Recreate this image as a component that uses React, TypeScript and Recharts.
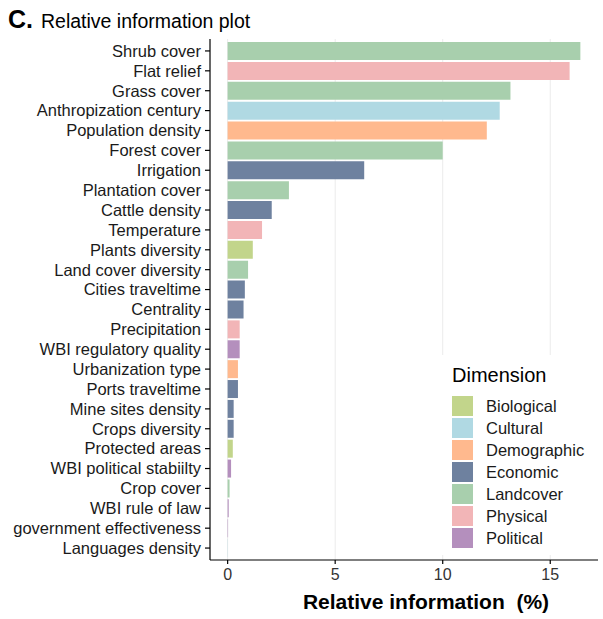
import { BarChart, Bar, Cell, XAxis, YAxis, CartesianGrid, Legend } from 'recharts';

const categories = [
  'Shrub cover',
  'Flat relief',
  'Grass cover',
  'Anthropization century',
  'Population density',
  'Forest cover',
  'Irrigation',
  'Plantation cover',
  'Cattle density',
  'Temperature',
  'Plants diversity',
  'Land cover diversity',
  'Cities traveltime',
  'Centrality',
  'Precipitation',
  'WBI regulatory quality',
  'Urbanization type',
  'Ports traveltime',
  'Mine sites density',
  'Crops diversity',
  'Protected areas',
  'WBI political stabiilty',
  'Crop cover',
  'WBI rule of law',
  'government effectiveness',
  'Languages density',
];

const values = [
  16.4, 15.9, 13.15, 12.65, 12.05, 10.0, 6.35, 2.85, 2.05, 1.6, 1.17, 0.95, 0.8, 0.74, 0.56,
  0.56, 0.48, 0.48, 0.28, 0.28, 0.24, 0.16, 0.09, 0.05, 0.02, 0.01,
];

const dimensionOf = [
  'Landcover', 'Physical', 'Landcover', 'Cultural', 'Demographic', 'Landcover', 'Economic',
  'Landcover', 'Economic', 'Physical', 'Biological', 'Landcover', 'Economic', 'Economic',
  'Physical', 'Political', 'Demographic', 'Economic', 'Economic', 'Economic', 'Biological',
  'Political', 'Landcover', 'Political', 'Political', 'Cultural',
];

const dimensions = ['Biological', 'Cultural', 'Demographic', 'Economic', 'Landcover', 'Physical', 'Political'];

const dimensionColors: Record<string, string> = {
  Biological: '#c2d58b',
  Cultural: '#b0d9e3',
  Demographic: '#ffb98e',
  Economic: '#6e819f',
  Landcover: '#a8cfad',
  Physical: '#f2b5b7',
  Political: '#b48fbd',
};

const xTicks = [0, 5, 10, 15];
const xDomain: [number, number] = [-0.82, 17.22];

const data = categories.map((name, i) => ({ name, value: values[i], dim: dimensionOf[i] }));

const FONT = '"Liberation Sans", Arial, sans-serif';

// grid lines only at the major ticks (no line at the panel edge)
const gridX = (props: any) => {
  const scale = props?.xAxis?.scale;
  if (typeof scale === 'function') return xTicks.map((t) => scale(t));
  const { left, width } = props.offset;
  return xTicks.map((t) => left + ((t - xDomain[0]) / (xDomain[1] - xDomain[0])) * width);
};

function DimensionLegend() {
  return (
    <svg width={160} height={200} style={{ display: 'block', background: '#fff' }}>
      <text x={12} y={27} fontSize={20} fontFamily={FONT} fill="#000">
        Dimension
      </text>
      {dimensions.map((d, i) => (
        <g key={d}>
          <rect x={12} y={41 + i * 22} width={21} height={20} fill={dimensionColors[d]} />
          <text x={46} y={57 + i * 22} fontSize={16.5} fontFamily={FONT} fill="#1a1a1a">
            {d}
          </text>
        </g>
      ))}
    </svg>
  );
}

export default function App() {
  return (
    <div style={{ position: 'absolute', left: 0, top: 0, width: 603, height: 619, background: '#fff' }}>
      <BarChart
        width={603}
        height={619}
        data={data}
        layout="vertical"
        margin={{ top: 39, right: 5, bottom: 0, left: 0 }}
        barCategoryGap="5%"
      >
        <CartesianGrid
          horizontal={false}
          stroke="#ebebeb"
          strokeWidth={1}
          verticalCoordinatesGenerator={gridX}
        />
        <XAxis
          type="number"
          domain={xDomain}
          ticks={xTicks}
          allowDataOverflow
          height={59}
          tickSize={4}
          tickMargin={5}
          axisLine={{ stroke: '#000', strokeWidth: 1.2 }}
          tickLine={{ stroke: '#000', strokeWidth: 1.2 }}
          tick={{ fontSize: 16, fill: '#333', fontFamily: FONT }}
        />
        <YAxis
          type="category"
          dataKey="name"
          width={210}
          interval={0}
          padding={{ top: 2, bottom: 2 }}
          tickSize={5}
          tickMargin={4}
          axisLine={{ stroke: '#000', strokeWidth: 1.2 }}
          tickLine={{ stroke: '#000', strokeWidth: 1.2 }}
          tick={{ fontSize: 16.5, fill: '#1a1a1a', fontFamily: FONT }}
        />
        <Legend
          layout="vertical"
          align="center"
          verticalAlign="middle"
          content={() => <DimensionLegend />}
          wrapperStyle={{ position: 'absolute', left: 440, top: 355, width: 160, height: 200 }}
        />
        <Bar dataKey="value" isAnimationActive={false}>
          {data.map((d) => (
            <Cell key={d.name} fill={dimensionColors[d.dim]} />
          ))}
        </Bar>
      </BarChart>
      <svg
        width={603}
        height={619}
        style={{ position: 'absolute', left: 0, top: 0, pointerEvents: 'none' }}
      >
        <text x={8} y={28} fontFamily={FONT}>
          <tspan fontSize={25} fontWeight="bold">C.</tspan>
          <tspan x={41} fontSize={19.5}>Relative information plot</tspan>
        </text>
        <text
          x={426}
          y={609}
          textAnchor="middle"
          fontSize={21}
          fontWeight="bold"
          fontFamily={FONT}
          style={{ whiteSpace: 'pre' }}
        >
          {'Relative information  (%)'}
        </text>
      </svg>
    </div>
  );
}
